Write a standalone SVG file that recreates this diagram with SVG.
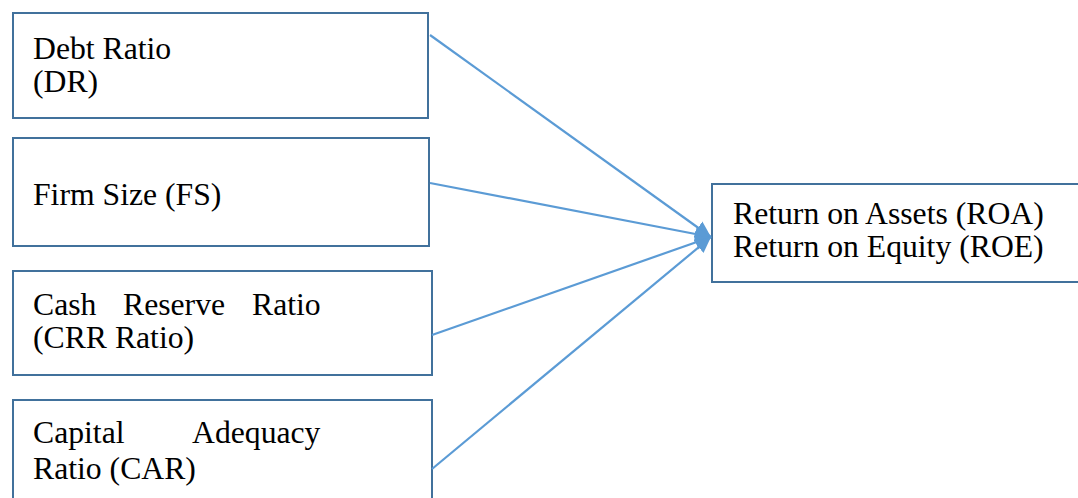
<svg xmlns="http://www.w3.org/2000/svg" width="1078" height="498" viewBox="0 0 1078 498">
<style>
.box{fill:#fff;stroke:#41719C;stroke-width:2}
.c{stroke:#5B9BD5;stroke-width:2.2;fill:none;marker-end:url(#ah)}
</style>
<defs>
<marker id="ah" markerUnits="userSpaceOnUse" markerWidth="17" markerHeight="16" refX="16" refY="8" orient="auto">
<path d="M0,0.5 L16,8 L0,15.5 z" fill="#5B9BD5"/>
</marker>
</defs>
<rect width="1078" height="498" fill="#fff"/>
<g font-family="Liberation Serif, serif" font-size="31.7" fill="#000">
<g id="node-dr">
<rect class="box" x="13" y="13" width="415" height="105"/>
<text x="33" y="59">Debt Ratio</text>
<text x="33" y="92">(DR)</text>
</g>
<g id="node-fs">
<rect class="box" x="13" y="138" width="416" height="108"/>
<text x="33" y="205">Firm Size (FS)</text>
</g>
<g id="node-crr">
<rect class="box" x="13" y="271" width="419" height="104"/>
<text y="315"><tspan x="33">Cash</tspan><tspan x="123">Reserve</tspan><tspan x="252">Ratio</tspan></text>
<text x="33" y="348">(CRR Ratio)</text>
</g>
<g id="node-car">
<rect class="box" x="13" y="400" width="419" height="110"/>
<text y="443"><tspan x="33">Capital</tspan><tspan x="192">Adequacy</tspan></text>
<text x="33" y="479">Ratio (CAR)</text>
</g>
<g id="node-roa">
<rect class="box" x="712" y="184" width="380" height="98"/>
<text x="733" y="224">Return on Assets (ROA)</text>
<text x="733" y="257">Return on Equity (ROE)</text>
</g>
</g>
<g id="connectors">
<line class="c" x1="430" y1="35" x2="711" y2="237"/>
<line class="c" x1="430" y1="183" x2="711" y2="237"/>
<line class="c" x1="432" y1="335" x2="711" y2="237"/>
<line class="c" x1="432" y1="469" x2="711" y2="237"/>
</g>
</svg>
